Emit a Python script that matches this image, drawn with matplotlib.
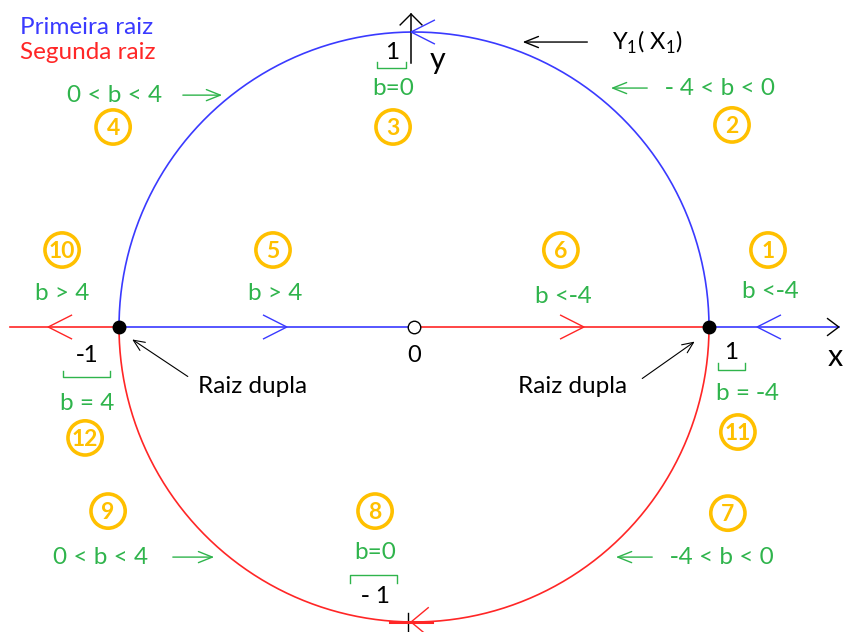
import numpy as np
import matplotlib.pyplot as plt
from matplotlib.patches import Circle

plt.rcParams['font.family'] = ['Lato', 'DejaVu Sans']
plt.rcParams['mathtext.fontset'] = 'custom'
plt.rcParams['mathtext.rm'] = 'Lato'

BLUE = '#3a3aff'
RED = '#ff2626'
GREEN = '#2fb44c'
ORANGE = '#ffc000'

# unit circle: upper half = first root, lower half = second root
roots_x = [-1.0, 0.0, 1.0]

# circled region numbers
badge_num = ['1', '2', '3', '4', '5', '6', '7', '8', '9', '10', '11', '12']
badge_x = [1.200, 1.078, -0.071, -1.020, -0.478, 0.498, 1.064, -0.132, -1.037, -1.193, 1.098, -1.115]
badge_y = [0.261, 0.685, 0.678, 0.678, 0.261, 0.261, -0.631, -0.624, -0.624, 0.261, -0.356, -0.376]

# green conditions on b
cond_txt = ['b <‑4', '‑ 4 < b < 0', 'b=0', '0 < b < 4', 'b > 4', 'b <‑4',
            '‑4 < b < 0', 'b=0', '0 < b < 4', 'b > 4', 'b = ‑4', 'b = 4']
cond_x = [1.207, 0.851, -0.071, -1.014, -0.471, 0.505, 0.868, -0.132, -1.064, -1.193, 1.129, -1.108]
cond_y = [0.119, 0.810, 0.810, 0.786, 0.115, 0.102, -0.780, -0.766, -0.780, 0.115, -0.224, -0.258]
cond_ha = ['center', 'left', 'center', 'center', 'center', 'center',
           'left', 'center', 'center', 'center', 'center', 'center']

# green pointer arrows (start -> end)
garrows = [((-0.793, 0.786), (-0.641, 0.786)),
           ((0.800, 0.810), (0.658, 0.810)),
           ((-0.827, -0.780), (-0.668, -0.780)),
           ((0.817, -0.780), (0.675, -0.780))]

# unit tick labels with green brackets
unit_txt = ['1', '‑1', '1', '‑ 1']
unit_x = [-0.075, -1.108, 1.075, -0.132]
unit_y = [0.932, -0.095, -0.085, -0.915]
brk_x0 = [-0.125, -1.190, 1.031, -0.217]
brk_x1 = [-0.027, -1.031, 1.122, -0.058]
brk_y = [0.878, -0.169, -0.146, -0.841]
brk_tip = [0.020, 0.020, 0.024, -0.027]


def chevron(ax, x, y, d, color, length=0.081, spread=0.041, lw=1.0):
    ax.plot([x - d * length, x, x - d * length], [y + spread, y, y - spread],
            color=color, lw=lw, solid_capstyle='butt')


fig = plt.figure(figsize=(8.44, 6.32), dpi=100)
ax = fig.add_axes([0, 0, 1, 1])
ax.set_xlim(-1.4034, 1.4576)
ax.set_ylim(-1.0339, 1.1085)
ax.set_aspect('equal')
ax.axis('off')

t = np.linspace(0, np.pi, 300)
ax.plot(np.cos(t), np.sin(t), color=BLUE, lw=1.2)
ax.plot(np.cos(t), -np.sin(t), color=RED, lw=1.2)

# x axis pieces
ax.plot([-1.37, roots_x[0]], [0, 0], color=RED, lw=1.2)
ax.plot([roots_x[0], roots_x[1]], [0, 0], color=BLUE, lw=1.2)
ax.plot([roots_x[1], roots_x[2]], [0, 0], color=RED, lw=1.2)
ax.plot([roots_x[2], 1.44], [0, 0], color=BLUE, lw=1.2)
chevron(ax, 1.44, 0, 1, 'black', length=0.04, spread=0.03)

# y axis
ax.plot([-0.010, -0.010], [0.895, 1.061], color='black', lw=1.1)
ax.plot([-0.047, -0.010, 0.027], [1.024, 1.061, 1.024], color='black', lw=1.0)

# direction chevrons
chevron(ax, -0.010, 1.0, -1, BLUE)
chevron(ax, -0.431, 0, 1, BLUE)
chevron(ax, -1.240, 0, -1, RED)
chevron(ax, 0.576, 0, 1, RED)
chevron(ax, 1.163, 0, -1, BLUE)
chevron(ax, -0.010, -1.0, -1, RED, length=0.06, spread=0.05)
ax.plot([-0.020, -0.020], [-0.97, -1.04], color='black', lw=1.0)
ax.plot([-0.08, 0.06], [-1.0, -1.0], color=RED, lw=2.2)

# roots
ax.plot([roots_x[0], roots_x[2]], [0, 0], 'o', color='black', ms=9, ls='none', zorder=5)
ax.plot([roots_x[1]], [0], 'o', mfc='white', mec='black', ms=9, mew=1.0, zorder=5)

# legend text
ax.text(-1.336, 1.0136, 'Primeira raiz', color=BLUE, fontsize=17.5, ha='left', va='center')
ax.text(-1.336, 0.932, 'Segunda raiz', color=RED, fontsize=17.5, ha='left', va='center')

for n, x, y in zip(badge_num, badge_x, badge_y):
    ax.add_patch(Circle((x, y), 0.058, fill=False, ec=ORANGE, lw=2.6))
    ax.text(x, y - 0.004, n, color=ORANGE, fontsize=16.5, fontweight='bold', ha='center', va='center')

for s, x, y, ha in zip(cond_txt, cond_x, cond_y, cond_ha):
    ax.text(x, y, s, color=GREEN, fontsize=17.5, ha=ha, va='center')

for (x0, y0), (x1, y1) in garrows:
    ax.annotate('', xy=(x1, y1), xytext=(x0, y0),
                arrowprops=dict(arrowstyle='->,head_length=1.0,head_width=0.4', color=GREEN, lw=1.0))

for s, x, y in zip(unit_txt, unit_x, unit_y):
    ax.text(x, y, s, color='black', fontsize=17.5, ha='center', va='center')
for x0, x1, y, d in zip(brk_x0, brk_x1, brk_y, brk_tip):
    ax.plot([x0, x0, x1, x1], [y + d, y, y, y + d], color=GREEN, lw=1.0)

ax.text(0, -0.098, '0', color='black', fontsize=17, ha='center', va='center')
ax.text(0.081, 0.905, 'y', color='black', fontsize=22, ha='center', va='center')
ax.text(1.427, -0.100, 'x', color='black', fontsize=22, ha='center', va='center')

ax.text(0.671, 0.966, r'Y$_\mathrm{1}$( X$_\mathrm{1}$)', color='black', fontsize=17,
        ha='left', va='center')
ax.annotate('', xy=(0.359, 0.966), xytext=(0.597, 0.966),
            arrowprops=dict(arrowstyle='->,head_length=1.0,head_width=0.4', color='black', lw=1.0))

ax.text(-0.546, -0.200, 'Raiz dupla', color='black', fontsize=17.5, ha='center', va='center')
ax.annotate('', xy=(-0.963, -0.037), xytext=(-0.759, -0.173),
            arrowprops=dict(arrowstyle='->,head_length=0.8,head_width=0.35', color='black', lw=0.8))
ax.text(0.536, -0.200, 'Raiz dupla', color='black', fontsize=17.5, ha='center', va='center')
ax.annotate('', xy=(0.959, -0.044), xytext=(0.766, -0.180),
            arrowprops=dict(arrowstyle='->,head_length=0.8,head_width=0.35', color='black', lw=0.8))

fig.savefig('out.png', dpi=100)
